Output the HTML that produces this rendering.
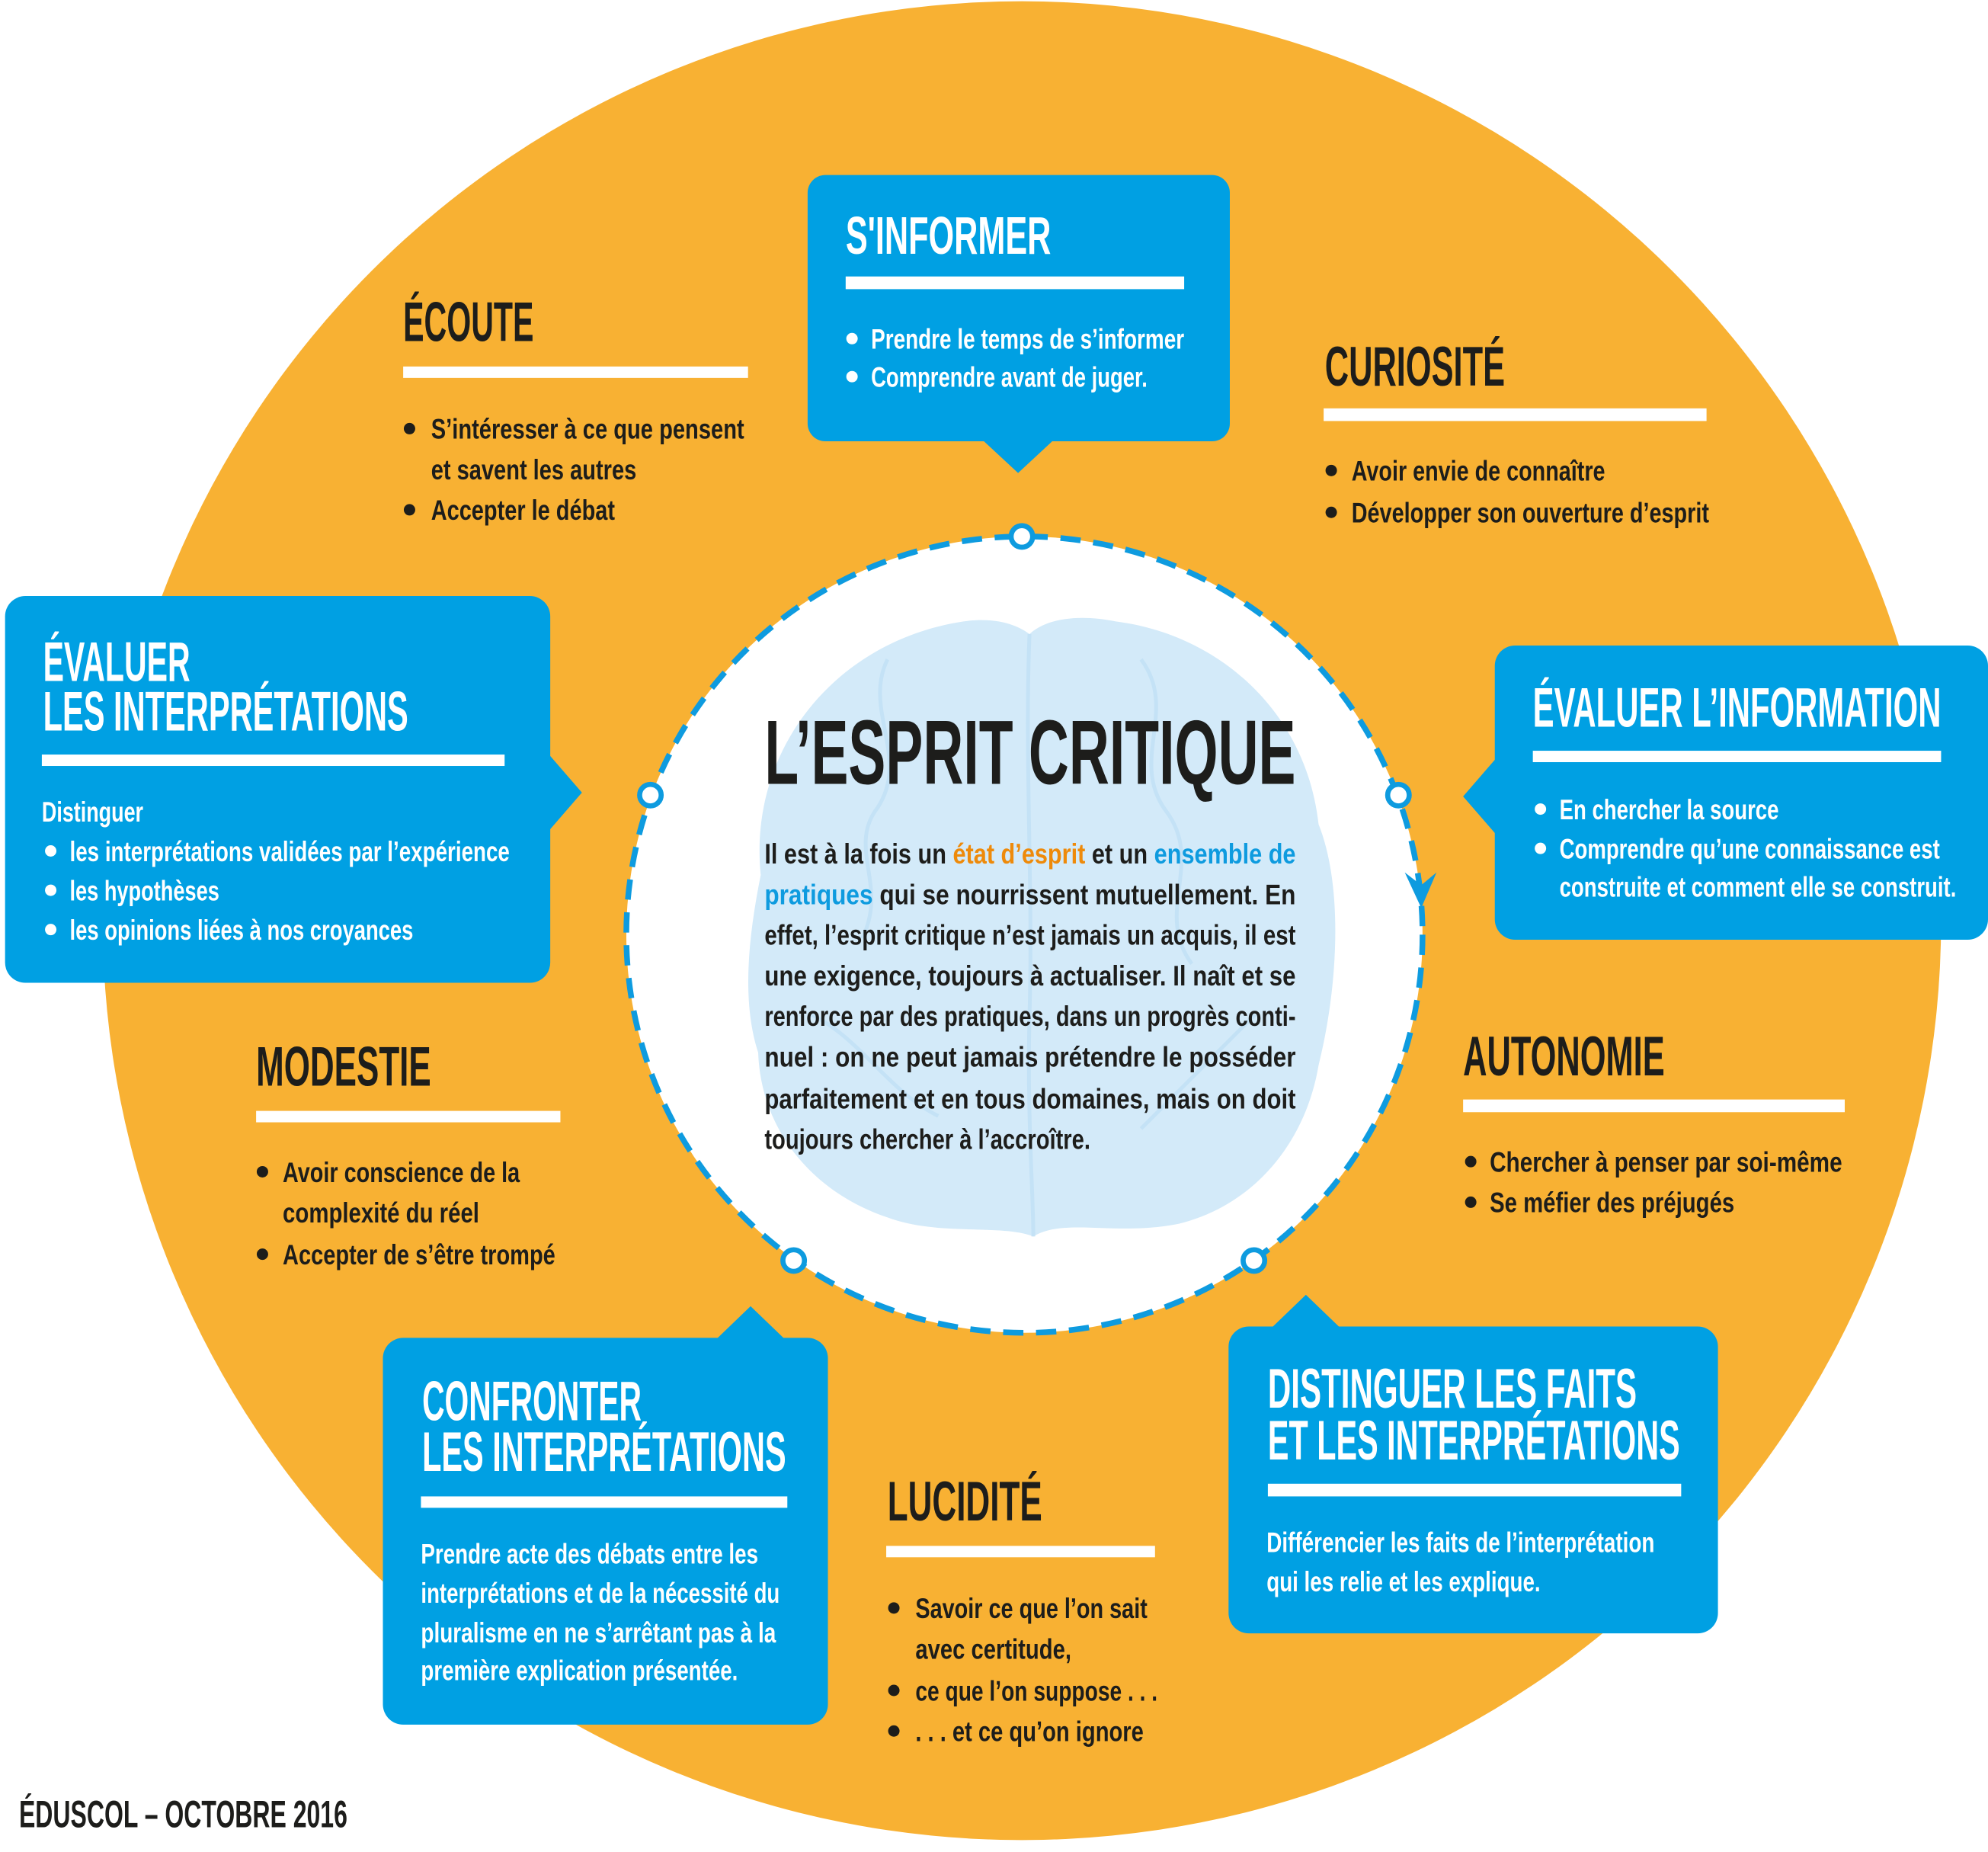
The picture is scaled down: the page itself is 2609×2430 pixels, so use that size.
<!DOCTYPE html>
<html><head><meta charset="utf-8"><style>
html,body{margin:0;padding:0;background:#fff;}
svg{display:block;}
text{font-family:"Liberation Sans Narrow","Liberation Sans",sans-serif;font-weight:bold;}
.t{fill:#1d1d1b;}
.w{fill:#fff;}
</style></head><body>
<svg width="2609" height="2430" viewBox="0 0 1568 1460.4" xmlns="http://www.w3.org/2000/svg">
<rect width="1568" height="1461" fill="#fff"/>
<circle cx="806" cy="726" r="725" fill="#F8B133"/>
<circle cx="808" cy="737" r="314" fill="#fff"/>
<g fill="#d3eaf9">
<path d="M600,690 C590,590 660,505 760,490 C790,486 805,495 812,500 C825,488 850,484 880,490 C960,500 1030,560 1040,650 C1060,700 1055,780 1040,840 C1030,900 990,950 930,965 C880,975 840,960 815,975 C790,965 740,975 700,960 C640,940 600,890 598,830 C585,790 590,740 600,690 Z"/>
</g>
<g fill="none" stroke="#c0e0f5" stroke-width="3" opacity="0.8">
<path d="M812,500 C808,600 815,700 812,800 C810,880 815,940 815,975"/>
<path d="M700,520 C680,560 720,600 690,640 C670,670 700,700 680,740"/>
<path d="M900,520 C930,560 890,600 920,640 C950,680 910,720 940,760"/>
<path d="M640,800 C680,820 700,860 740,880"/>
<path d="M990,800 C960,830 930,860 900,890"/>
</g>
<circle cx="808" cy="737" r="314" fill="none" stroke="#0e9bdf" stroke-width="4.5" stroke-dasharray="16 10"/>
<g fill="#fff" stroke="#0e9bdf" stroke-width="4">
<circle cx="806" cy="423" r="8.5"/>
<circle cx="513" cy="627" r="8.5"/>
<circle cx="1103" cy="627" r="8.5"/>
<circle cx="626" cy="994" r="8.5"/>
<circle cx="989" cy="994" r="8.5"/>
</g>
<polygon points="1108,688 1121,698 1133,688 1121,716" fill="#0e9bdf"/>

<g fill="#00A0E3">
<rect x="637" y="138" width="333" height="210" rx="14"/>
<polygon points="775,347 831,347 803,373"/>
<rect x="4" y="470" width="430" height="305" rx="16"/>
<polygon points="433,595 433,655 459,625"/>
<rect x="1179" y="509" width="389" height="232" rx="16"/>
<polygon points="1180,598 1180,658 1154,628"/>
<rect x="302" y="1055" width="351" height="305" rx="16"/>
<polygon points="565,1056 619,1056 592,1030"/>
<rect x="969" y="1046" width="386" height="242" rx="16"/>
<polygon points="1003,1047 1057,1047 1030,1021"/>
</g>

<g fill="#fff">
<rect x="318" y="289" width="272" height="9"/>
<rect x="667" y="218" width="267" height="10"/>
<rect x="1044" y="322" width="302" height="10"/>
<rect x="33" y="595" width="365" height="9"/>
<rect x="1209" y="592" width="322" height="9"/>
<rect x="1154" y="867" width="301" height="10"/>
<rect x="202" y="876" width="240" height="9"/>
<rect x="332" y="1180" width="289" height="9"/>
<rect x="699" y="1219" width="212" height="9"/>
<rect x="1000" y="1170" width="326" height="10"/>
</g>

<g font-size="44">
<text class="t" x="318" y="269" textLength="103" lengthAdjust="spacingAndGlyphs">ÉCOUTE</text>
<text class="w" x="667" y="200" textLength="162" lengthAdjust="spacingAndGlyphs" font-size="42">S'INFORMER</text>
<text class="t" x="1045" y="304" textLength="142" lengthAdjust="spacingAndGlyphs">CURIOSITÉ</text>
<text class="w" x="34" y="537" textLength="116" lengthAdjust="spacingAndGlyphs">ÉVALUER</text>
<text class="w" x="34" y="576" textLength="288" lengthAdjust="spacingAndGlyphs">LES INTERPRÉTATIONS</text>
<text class="w" x="1209" y="573" textLength="322" lengthAdjust="spacingAndGlyphs">ÉVALUER L’INFORMATION</text>
<text class="t" x="1154" y="848" textLength="159" lengthAdjust="spacingAndGlyphs">AUTONOMIE</text>
<text class="t" x="202" y="856" textLength="138" lengthAdjust="spacingAndGlyphs">MODESTIE</text>
<text class="w" x="333" y="1120" textLength="173" lengthAdjust="spacingAndGlyphs">CONFRONTER</text>
<text class="w" x="333" y="1160" textLength="287" lengthAdjust="spacingAndGlyphs">LES INTERPRÉTATIONS</text>
<text class="t" x="700" y="1199" textLength="122" lengthAdjust="spacingAndGlyphs">LUCIDITÉ</text>
<text class="w" x="1000" y="1110" textLength="291" lengthAdjust="spacingAndGlyphs">DISTINGUER LES FAITS</text>
<text class="w" x="1000" y="1151" textLength="325" lengthAdjust="spacingAndGlyphs">ET LES INTERPRÉTATIONS</text>
<text class="t" x="603" y="618" textLength="419" lengthAdjust="spacingAndGlyphs" font-size="72">L’ESPRIT CRITIQUE</text>
<text class="t" x="15" y="1441" textLength="259" lengthAdjust="spacingAndGlyphs" font-size="30">ÉDUSCOL – OCTOBRE 2016</text>
</g>

<g>
<g fill="#1d1d1b">
<circle cx="323" cy="338" r="4.5"/><circle cx="323" cy="402" r="4.5"/>
<circle cx="1050" cy="371" r="4.5"/><circle cx="1050" cy="404" r="4.5"/>
<circle cx="1160" cy="916" r="4.5"/><circle cx="1160" cy="948" r="4.5"/>
<circle cx="207" cy="924" r="4.5"/><circle cx="207" cy="989" r="4.5"/>
<circle cx="705" cy="1268" r="4.5"/><circle cx="705" cy="1333" r="4.5"/><circle cx="705" cy="1365" r="4.5"/>
</g>
<g fill="#fff">
<circle cx="672" cy="267" r="4.5"/><circle cx="672" cy="297" r="4.5"/>
<circle cx="40" cy="671" r="4.5"/><circle cx="40" cy="702" r="4.5"/><circle cx="40" cy="733" r="4.5"/>
<circle cx="1215" cy="638" r="4.5"/><circle cx="1215" cy="669" r="4.5"/>
</g>
</g>

<g font-size="22">
<text class="t" x="340" y="346" textLength="247" lengthAdjust="spacingAndGlyphs">S’intéresser à ce que pensent</text>
<text class="t" x="340" y="378" textLength="162" lengthAdjust="spacingAndGlyphs">et savent les autres</text>
<text class="t" x="340" y="410" textLength="145" lengthAdjust="spacingAndGlyphs">Accepter le débat</text>

<text class="w" x="687" y="275" textLength="247" lengthAdjust="spacingAndGlyphs">Prendre le temps de s’informer</text>
<text class="w" x="687" y="305" textLength="218" lengthAdjust="spacingAndGlyphs">Comprendre avant de juger.</text>

<text class="t" x="1066" y="379" textLength="200" lengthAdjust="spacingAndGlyphs">Avoir envie de connaître</text>
<text class="t" x="1066" y="412" textLength="282" lengthAdjust="spacingAndGlyphs">Développer son ouverture d’esprit</text>

<text class="w" x="33" y="648" textLength="80" lengthAdjust="spacingAndGlyphs">Distinguer</text>
<text class="w" x="55" y="679" textLength="347" lengthAdjust="spacingAndGlyphs">les interprétations validées par l’expérience</text>
<text class="w" x="55" y="710" textLength="118" lengthAdjust="spacingAndGlyphs">les hypothèses</text>
<text class="w" x="55" y="741" textLength="271" lengthAdjust="spacingAndGlyphs">les opinions liées à nos croyances</text>

<text class="w" x="1230" y="646" textLength="173" lengthAdjust="spacingAndGlyphs">En chercher la source</text>
<text class="w" x="1230" y="677" textLength="300" lengthAdjust="spacingAndGlyphs">Comprendre qu’une connaissance est</text>
<text class="w" x="1230" y="707" textLength="313" lengthAdjust="spacingAndGlyphs">construite et comment elle se construit.</text>

<text class="t" x="1175" y="924" textLength="278" lengthAdjust="spacingAndGlyphs">Chercher à penser par soi-même</text>
<text class="t" x="1175" y="956" textLength="193" lengthAdjust="spacingAndGlyphs">Se méfier des préjugés</text>

<text class="t" x="223" y="932" textLength="187" lengthAdjust="spacingAndGlyphs">Avoir conscience de la</text>
<text class="t" x="223" y="964" textLength="155" lengthAdjust="spacingAndGlyphs">complexité du réel</text>
<text class="t" x="223" y="997" textLength="215" lengthAdjust="spacingAndGlyphs">Accepter de s’être trompé</text>

<text class="w" x="332" y="1233" textLength="266" lengthAdjust="spacingAndGlyphs">Prendre acte des débats entre les</text>
<text class="w" x="332" y="1264" textLength="283" lengthAdjust="spacingAndGlyphs">interprétations et de la nécessité du</text>
<text class="w" x="332" y="1295" textLength="280" lengthAdjust="spacingAndGlyphs">pluralisme en ne s’arrêtant pas à la</text>
<text class="w" x="332" y="1325" textLength="250" lengthAdjust="spacingAndGlyphs">première explication présentée.</text>

<text class="t" x="722" y="1276" textLength="183" lengthAdjust="spacingAndGlyphs">Savoir ce que l’on sait</text>
<text class="t" x="722" y="1308" textLength="123" lengthAdjust="spacingAndGlyphs">avec certitude,</text>
<text class="t" x="722" y="1341" textLength="191" lengthAdjust="spacingAndGlyphs">ce que l’on suppose . . .</text>
<text class="t" x="722" y="1373" textLength="180" lengthAdjust="spacingAndGlyphs">. . . et ce qu’on ignore</text>

<text class="w" x="999" y="1224" textLength="306" lengthAdjust="spacingAndGlyphs">Différencier les faits de l’interprétation</text>
<text class="w" x="999" y="1255" textLength="216" lengthAdjust="spacingAndGlyphs">qui les relie et les explique.</text>

<text class="t" x="603" y="681" textLength="419" lengthAdjust="spacingAndGlyphs">Il est à la fois un <tspan fill="#EE8A0A">état d’esprit</tspan> et un <tspan fill="#0e9bdf">ensemble de</tspan></text>
<text class="t" x="603" y="713" textLength="419" lengthAdjust="spacingAndGlyphs"><tspan fill="#0e9bdf">pratiques</tspan> qui se nourrissent mutuellement. En</text>
<text class="t" x="603" y="745" textLength="419" lengthAdjust="spacingAndGlyphs">effet, l’esprit critique n’est jamais un acquis, il est</text>
<text class="t" x="603" y="777" textLength="419" lengthAdjust="spacingAndGlyphs">une exigence, toujours à actualiser. Il naît et se</text>
<text class="t" x="603" y="809" textLength="419" lengthAdjust="spacingAndGlyphs">renforce par des pratiques, dans un progrès conti-</text>
<text class="t" x="603" y="841" textLength="419" lengthAdjust="spacingAndGlyphs">nuel : on ne peut jamais prétendre le posséder</text>
<text class="t" x="603" y="874" textLength="419" lengthAdjust="spacingAndGlyphs">parfaitement et en tous domaines, mais on doit</text>
<text class="t" x="603" y="906" textLength="257" lengthAdjust="spacingAndGlyphs">toujours chercher à l’accroître.</text>
</g>
</svg>
</body></html>
